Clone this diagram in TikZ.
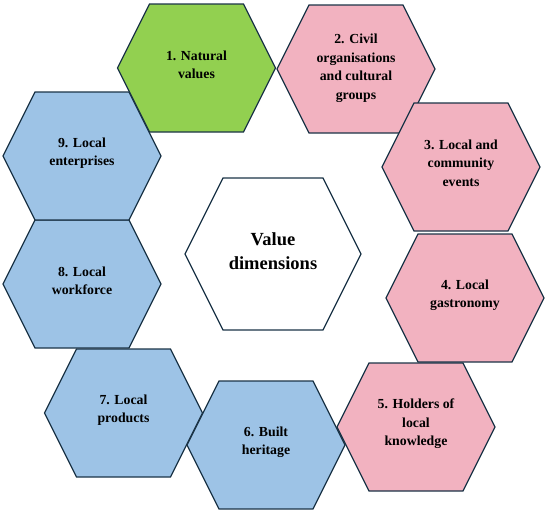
\documentclass[tikz,border=0pt]{standalone}
\usepackage{fontspec}
\setmainfont{Liberation Serif}
\usetikzlibrary{positioning}

\definecolor{natgreen}{HTML}{92D050}
\definecolor{hexpink}{HTML}{F2B2C0}
\definecolor{hexblue}{HTML}{9DC3E6}
\definecolor{hexline}{HTML}{1B3447}

\tikzset{
  hexcell/.style={draw=hexline, line width=1.3pt, line join=miter},
  hexlabel/.style={align=center, inner sep=0pt, font=\bfseries\fontsize{13.8}{18.5}\selectfont},
  biglabel/.style={align=center, inner sep=0pt, font=\bfseries\fontsize{18.5}{24}\selectfont}
}

\begin{document}
\begin{tikzpicture}[x=1pt,y=-1pt]
\useasboundingbox (0,0) rectangle (550,514);
% outer ring of cells
\foreach \cx/\cy/\col in {196.5/68/natgreen, 356/69/hexpink, 461/167/hexpink,
    465/298/hexpink, 416/427/hexpink, 266/445/hexblue, 123.5/413/hexblue,
    82/284/hexblue, 82/156/hexblue}
  \filldraw[hexcell, fill=\col] (\cx-79,\cy) -- ++(32,-64) -- ++(94,0)
    -- ++(32,64) -- ++(-32,64) -- ++(-94,0) -- cycle;
% middle cell
\filldraw[hexcell, fill=white] (185,254) -- ++(38,-76) -- ++(100,0)
  -- ++(38,76) -- ++(-38,76) -- ++(-100,0) -- cycle;

\node[hexlabel] (natval) at (196.5,65) {1. Natural\\values};
\node[hexlabel] (civil) at (356,68) {2. Civil\\organisations\\and cultural\\groups};
\node[hexlabel] (events) at (461,163) {3. Local and\\community\\events};
\node[hexlabel] (gastro) at (465,295) {4. Local\\gastronomy};
\node[hexlabel] (holders) at (416,424) {5. Holders of\\local\\knowledge};
\node[hexlabel] (built) at (266,442) {6. Built\\heritage};
\node[hexlabel] (products) at (123.5,410) {7. Local\\products};
\node[hexlabel] (workforce) at (82,281) {8. Local\\workforce};
\node[hexlabel] (enterprises) at (82,153) {9. Local\\enterprises};
\node[biglabel] (valdim) at (273,251) {Value\\dimensions};
\end{tikzpicture}
\end{document}
